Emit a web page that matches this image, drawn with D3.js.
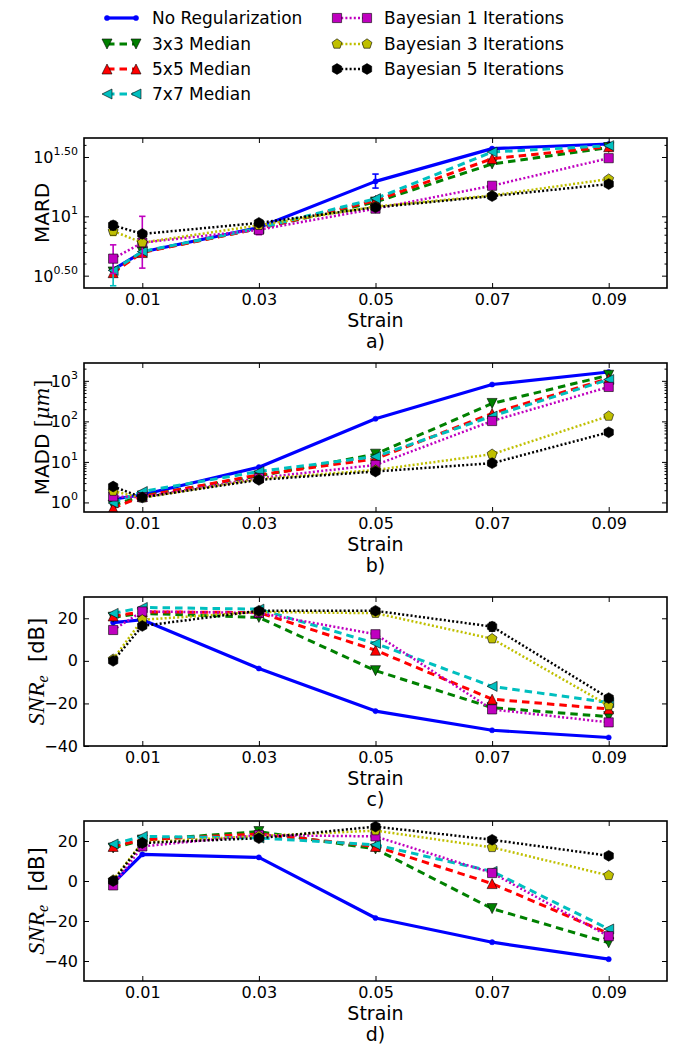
<!DOCTYPE html>
<html><head><meta charset="utf-8">
<script src="https://cdn.jsdelivr.net/npm/d3@7"></script>
<style>body{margin:0;background:#fff}svg{display:block}</style>
</head><body>
<svg id="chart" width="678" height="1050"></svg>
<script>
// ---------------- data ----------------
const seriesNames = ["No Regularization","3x3 Median","5x5 Median","7x7 Median",
  "Bayesian 1 Iterations","Bayesian 3 Iterations","Bayesian 5 Iterations"];
const seriesColors = ["#0000ff","#008000","#ff0000","#00bfbf","#bf00bf","#bfbf00","#000000"];
const seriesMarkers = ["point","tdown","tup","tleft","square","pentagon","hexagon"];
const seriesStyles = ["solid","dashed","dashed","dashed","dotted","dotted","dotted"];

const strain = [0.005, 0.01, 0.03, 0.05, 0.07, 0.09];
const xTickValues = [0.01, 0.03, 0.05, 0.07, 0.09];

// a) MARD
const mardValues = [
  [3.55, 5.0, 8.05, 19.7, 37.2, 40.7],
  [3.4, 5.0, 7.9, 13.2, 27.6, 38.0],
  [3.35, 4.95, 7.9, 13.6, 30.6, 38.6],
  [3.5, 5.05, 7.95, 14.1, 34.8, 39.4],
  [4.4, 6.0, 7.7, 11.6, 18.1, 30.9],
  [7.5, 6.0, 8.4, 12.1, 15.0, 20.6],
  [8.4, 7.1, 8.8, 11.9, 14.8, 18.7]
];
// b) MADD
const maddValues = [
  [1.2, 1.55, 7.4, 116, 811, 1650],
  [0.85, 1.45, 4.5, 15.5, 277, 1375],
  [0.73, 1.4, 4.8, 11.9, 157, 1140],
  [0.97, 1.86, 5.8, 13.5, 135, 1075],
  [1.4, 1.35, 4.0, 8.4, 102, 707],
  [1.9, 1.3, 3.8, 6.3, 15.5, 135],
  [2.47, 1.33, 3.6, 5.8, 9.3, 53.7]
];
// c) SNRe
const snrCValues = [
  [18.0, 19.3, -3.6, -23.6, -32.6, -36.0],
  [20.5, 22.3, 20.4, -4.6, -22.0, -26.2],
  [21.1, 23.0, 22.7, 5.0, -18.0, -22.6],
  [22.3, 25.1, 24.3, 8.2, -12.0, -19.6],
  [14.5, 23.2, 22.5, 12.5, -22.8, -28.9],
  [0.8, 19.3, 23.0, 22.4, 10.4, -21.0],
  [0.0, 16.4, 23.5, 23.5, 16.1, -17.5]
];
// d) SNRe
const snrDValues = [
  [-1.0, 13.3, 11.8, -18.5, -30.6, -39.1],
  [16.5, 20.5, 24.7, 16.0, -13.8, -30.9],
  [17.3, 20.6, 23.5, 17.3, -1.3, -26.3],
  [18.5, 22.3, 21.5, 18.1, 4.8, -24.0],
  [-2.2, 17.3, 23.0, 22.3, 4.0, -27.6],
  [0.5, 19.3, 22.5, 25.2, 16.8, 2.8],
  [0.0, 19.0, 21.4, 27.2, 20.6, 12.6]
];
// error bars: panel index, series index, strain, low, high
const errorBars = [
  {panel:0, series:0, x:0.05, lo:17.3, hi:22.7},
  {panel:0, series:3, x:0.005, lo:2.6, hi:4.4},
  {panel:0, series:4, x:0.005, lo:3.3, hi:5.75},
  {panel:0, series:4, x:0.01, lo:3.66, hi:10.0},
  {panel:0, series:4, x:0.03, lo:7.0, hi:8.5},
  {panel:0, series:5, x:0.005, lo:6.9, hi:8.1},
  {panel:0, series:6, x:0.005, lo:7.7, hi:9.05},
  {panel:2, series:6, x:0.07, lo:14.0, hi:18.0}
];

const xLimits = [0, 0.1];
const panelCaptions = ["a)", "b)", "c)", "d)"];

// ---------------- layout ----------------
const L = 84, R = 667;
const panels = [
  {vals: mardValues, log: true, ylim: [Math.pow(10,0.396), Math.pow(10,1.66)], top: 138, bottom: 288,
   major: [Math.pow(10,0.5), 10, Math.pow(10,1.5)], majorSup: ["0.50","1","1.50"],
   minor: [4,5,6,7,8,9,20,40], label: "MARD", labelX: 42},
  {vals: maddValues, log: true, ylim: [Math.pow(10,-0.236), Math.pow(10,3.44)], top: 363, bottom: 512,
   major: [1,10,100,1000], majorSup: ["0","1","2","3"],
   minor: [2,3,4,5,6,7,8,9,20,30,40,50,60,70,80,90,200,300,400,500,600,700,800,900,2000], label: "MADD", labelX: 42},
  {vals: snrCValues, log: false, ylim: [-40, 30], top: 597, bottom: 746,
   major: [-40,-20,0,20], minor: [], label: "SNR", labelX: 37},
  {vals: snrDValues, log: false, ylim: [-50, 30], top: 821, bottom: 981,
   major: [-40,-20,0,20], minor: [], label: "SNR", labelX: 37}
];

const svg = d3.select("#chart");
const FONT = "DejaVu Sans";

function markerPath(type) {
  const pts = [];
  if (type === "tdown") { const s=5; return `M0,${s}L${-s},${-s}L${s},${-s}Z`; }
  if (type === "tup") { const s=5; return `M0,${-s}L${-s},${s}L${s},${s}Z`; }
  if (type === "tleft") { const s=5; return `M${-s},0L${s},${-s}L${s},${s}Z`; }
  if (type === "square") { const s=4.6; return `M${-s},${-s}H${s}V${s}H${-s}Z`; }
  let n, r;
  if (type === "pentagon") { n = 5; r = 5.2; }
  else if (type === "hexagon") { n = 6; r = 5.4; }
  else { return null; }
  for (let k = 0; k < n; k++) {
    const a = -Math.PI/2 + k*2*Math.PI/n;
    pts.push([r*Math.cos(a), r*Math.sin(a)]);
  }
  return "M" + pts.map(p => p[0].toFixed(2)+","+p[1].toFixed(2)).join("L") + "Z";
}

function styleLine(sel, s) {
  const st = seriesStyles[s];
  sel.attr("fill","none").attr("stroke", seriesColors[s]).attr("stroke-linejoin","round");
  if (st === "solid") sel.attr("stroke-width", 3.2);
  else if (st === "dashed") sel.attr("stroke-width", 3).attr("stroke-dasharray","7.5,5");
  else sel.attr("stroke-width", 2.5).attr("stroke-dasharray","2,2.2");
}

function drawMarker(g, s, cx, cy) {
  const type = seriesMarkers[s];
  if (type === "point") {
    g.append("circle").attr("cx",cx).attr("cy",cy).attr("r",2.6)
      .attr("fill",seriesColors[s]).attr("stroke",seriesColors[s]).attr("stroke-width",0.5);
  } else {
    g.append("path").attr("d", markerPath(type)).attr("transform",`translate(${cx},${cy})`)
      .attr("fill",seriesColors[s]).attr("stroke","#000").attr("stroke-width",0.6);
  }
}

const x = d3.scaleLinear().domain(xLimits).range([L, R]);

panels.forEach((p, pi) => {
  const y = (p.log ? d3.scaleLog() : d3.scaleLinear()).domain(p.ylim).range([p.bottom, p.top]);
  const g = svg.append("g");
  const clipId = "clip" + pi;
  svg.append("clipPath").attr("id", clipId).append("rect")
    .attr("x", L).attr("y", p.top).attr("width", R - L).attr("height", p.bottom - p.top);
  const plot = g.append("g").attr("clip-path", `url(#${clipId})`);
  const line = d3.line().x(d => x(d[0])).y(d => y(d[1]));

  p.vals.forEach((vals, s) => {
    const data = strain.map((sx, k) => [sx, vals[k]]);
    errorBars.filter(e => e.panel === pi && e.series === s).forEach(e => {
      const ex = x(e.x);
      plot.append("line").attr("x1",ex).attr("x2",ex).attr("y1",y(e.lo)).attr("y2",y(e.hi))
        .attr("stroke",seriesColors[s]).attr("stroke-width",1.6);
      [e.lo, e.hi].forEach(v => plot.append("line").attr("x1",ex-3.2).attr("x2",ex+3.2)
        .attr("y1",y(v)).attr("y2",y(v)).attr("stroke",seriesColors[s]).attr("stroke-width",1.6));
    });
    plot.append("path").datum(data).attr("d", line).call(styleLine, s);
    data.forEach(d => drawMarker(plot, s, x(d[0]), y(d[1])));
  });

  g.append("g").attr("transform",`translate(0,${p.bottom})`)
    .call(d3.axisBottom(x).tickValues(xTickValues).tickSize(-5).tickPadding(6).tickFormat(d3.format(".2f")));
  g.append("g").attr("transform",`translate(0,${p.top})`)
    .call(d3.axisTop(x).tickValues(xTickValues).tickSize(-5).tickFormat(""));
  const axL = g.append("g").attr("transform",`translate(${L},0)`)
    .call(d3.axisLeft(y).tickValues(p.major).tickSize(-5).tickPadding(6)
      .tickFormat(p.log ? () => "" : d3.format("d")));
  g.append("g").attr("transform",`translate(${R},0)`)
    .call(d3.axisRight(y).tickValues(p.major).tickSize(-5).tickFormat(""));
  if (p.minor.length) {
    g.append("g").attr("transform",`translate(${L},0)`)
      .call(d3.axisLeft(y).tickValues(p.minor).tickSize(-2.5).tickFormat(""));
    g.append("g").attr("transform",`translate(${R},0)`)
      .call(d3.axisRight(y).tickValues(p.minor).tickSize(-2.5).tickFormat(""));
  }
  g.selectAll(".domain").remove();
  g.selectAll(".tick line").attr("stroke","#000").attr("stroke-width",1);
  g.selectAll(".tick text").attr("font-family",FONT).attr("font-size",16).attr("fill","#000");
  axL.selectAll(".tick text").attr("x", -6);

  if (p.log) {
    p.major.forEach((v, k) => {
      const t = g.append("text").attr("x", 78).attr("y", y(v) + 6)
        .attr("text-anchor","end").attr("font-family",FONT).attr("font-size",16).attr("fill","#000");
      t.append("tspan").text("10");
      t.append("tspan").attr("font-size",11).attr("dy",-8).text(p.majorSup[k]);
    });
  }

  g.append("rect").attr("x",L).attr("y",p.top).attr("width",R-L).attr("height",p.bottom-p.top)
    .attr("fill","none").attr("stroke","#000").attr("stroke-width",1.6);

  const cx = (L + R) / 2;
  g.append("text").attr("x",cx).attr("y",p.bottom + 39).attr("text-anchor","middle")
    .attr("font-family",FONT).attr("font-size",19).text("Strain");
  g.append("text").attr("x",cx).attr("y",p.bottom + 60).attr("text-anchor","middle")
    .attr("font-family",FONT).attr("font-size",19).text(panelCaptions[pi]);

  const cy = (p.top + p.bottom) / 2;
  const yl = g.append("text").attr("transform",`translate(${p.labelX + 7},${cy}) rotate(-90)`)
    .attr("text-anchor","middle").attr("font-family",FONT).attr("font-size",20);
  if (p.label === "MARD") {
    yl.text("MARD");
  } else if (p.label === "MADD") {
    yl.append("tspan").text("MADD ");
    yl.append("tspan").attr("font-family","DejaVu Serif").text("[");
    yl.append("tspan").attr("font-family","DejaVu Serif").attr("font-style","italic").text("μm");
    yl.append("tspan").attr("font-family","DejaVu Serif").text("]");
  } else {
    yl.append("tspan").attr("font-family","Liberation Serif").attr("font-style","italic").attr("font-size",24).text("SNR");
    yl.append("tspan").attr("font-family","Liberation Serif").attr("font-style","italic").attr("font-size",16).attr("dy",4).text("e");
    yl.append("tspan").attr("dy",-4).attr("font-size",21).attr("xml:space","preserve").text("\u00a0\u00a0[dB]");
  }
});

// ---------------- legend ----------------
const legendRows = [18, 44, 69, 94];
const legend = svg.append("g");
seriesNames.forEach((name, s) => {
  const col = s < 4 ? 0 : 1;
  const row = s < 4 ? s : s - 4;
  const x1 = col === 0 ? 107 : 337, x2 = col === 0 ? 136 : 367;
  const tx = col === 0 ? 152 : 384;
  const yy = legendRows[row];
  legend.append("line").attr("x1",x1).attr("x2",x2).attr("y1",yy).attr("y2",yy).call(styleLine, s);
  drawMarker(legend, s, x1, yy);
  drawMarker(legend, s, x2, yy);
  legend.append("text").attr("x",tx).attr("y",yy + 6).attr("font-family",FONT)
    .attr("font-size",17).text(name);
});
</script>
</body></html>
